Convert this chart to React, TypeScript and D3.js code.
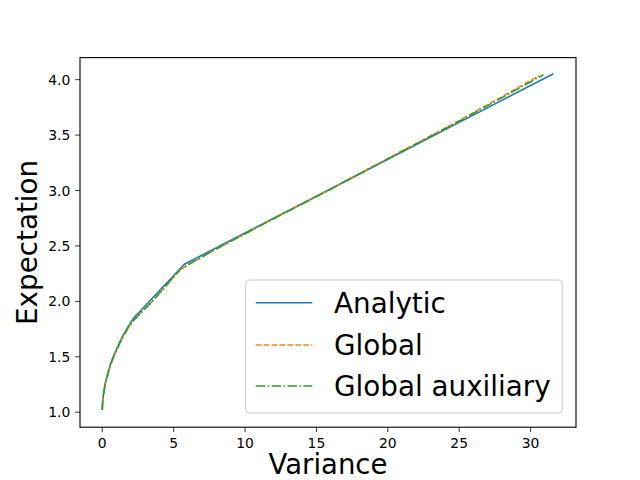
import React from "react";
import * as d3 from "d3";

const analyticX = [0, 0.02, 0.08, 0.2, 0.4, 0.7, 1.0, 1.4, 1.8, 2.2, 5.75, 10, 15, 20, 25, 31.6];
const analyticY = [1.02, 1.09, 1.16, 1.26, 1.36, 1.48, 1.57, 1.68, 1.77, 1.85, 2.335, 2.617, 2.949, 3.282, 3.615, 4.054];

const globalX = [0, 0.02, 0.08, 0.2, 0.4, 0.7, 1.0, 1.4, 1.8, 2.2, 3.5, 5.5, 8, 12, 16, 20, 25, 30.6];
const globalY = [1.02, 1.08, 1.15, 1.25, 1.35, 1.47, 1.56, 1.67, 1.76, 1.83, 2.0, 2.29, 2.475, 2.745, 3.015, 3.29, 3.63, 4.035];

const auxX = [0, 0.02, 0.08, 0.2, 0.4, 0.7, 1.0, 1.4, 1.8, 2.2, 3.5, 5.5, 8, 12, 16, 20, 25, 30.9];
const auxY = [1.02, 1.08, 1.15, 1.25, 1.35, 1.47, 1.56, 1.67, 1.76, 1.83, 2.0, 2.295, 2.475, 2.745, 3.012, 3.285, 3.625, 4.045];

const seriesNames = ["Analytic", "Global", "Global auxiliary"];
const xTicks = [0, 5, 10, 15, 20, 25, 30];
const yTicks = [1.0, 1.5, 2.0, 2.5, 3.0, 3.5, 4.0];

const W = 640, H = 480;
const L = 80, R = 576, T = 57.6, B = 427.2;
const FONT = "DejaVu Sans, sans-serif";

export default function App() {
  const x = d3.scaleLinear().domain([-1.56, 33.18]).range([L, R]);
  const y = d3.scaleLinear().domain([0.865, 4.199]).range([B, T]);
  const line = d3.line<[number, number]>().x(d => x(d[0])).y(d => y(d[1]));
  const series = [
    { name: seriesNames[0], xs: analyticX, ys: analyticY, color: "#1f77b4", dash: undefined as string | undefined },
    { name: seriesNames[1], xs: globalX, ys: globalY, color: "#ff7f0e", dash: "5.55,2.4" },
    { name: seriesNames[2], xs: auxX, ys: auxY, color: "#2ca02c", dash: "9.6,2.4,1.5,2.4" },
  ];
  const legendRows = [302.7, 345, 386];
  return (
    <svg width={W} height={H} style={{ position: "absolute", left: 0, top: 0, background: "#fff" }} fontFamily={FONT}>
      <rect x={0} y={0} width={W} height={H} fill="#fff" />
      <defs>
        <clipPath id="plotclip">
          <rect x={L} y={T} width={R - L} height={B - T} />
        </clipPath>
      </defs>
      <g clipPath="url(#plotclip)">
        {series.map(s => (
          <path key={s.name}
            d={line(s.xs.map((v, i) => [v, s.ys[i]] as [number, number])) || ""}
            fill="none" stroke={s.color} strokeWidth={1.6} strokeDasharray={s.dash}
            strokeLinejoin="round" />
        ))}
      </g>
      {xTicks.map(t => (
        <g key={"x" + t}>
          <line x1={x(t)} x2={x(t)} y1={B} y2={B + 4.86} stroke="#000" strokeWidth={0.8} />
          <text x={x(t)} y={B + 4.86 + 4.86 + 11} textAnchor="middle" fontSize={13.9} fill="#000">{t}</text>
        </g>
      ))}
      {yTicks.map(t => (
        <g key={"y" + t}>
          <line x1={L - 4.86} x2={L} y1={y(t)} y2={y(t)} stroke="#000" strokeWidth={0.8} />
          <text x={L - 4.86 - 4.86} y={y(t)} dy="0.36em" textAnchor="end" fontSize={13.9} fill="#000">{t.toFixed(1)}</text>
        </g>
      ))}
      <rect x={L} y={T} width={R - L} height={B - T} fill="none" stroke="#000" strokeWidth={1.1} />
      <text x={(L + R) / 2} y={474} textAnchor="middle" fontSize={27.5} fill="#000">Variance</text>
      <text transform={`translate(36.5,${(T + B) / 2}) rotate(-90)`} textAnchor="middle" fontSize={27.8} fill="#000">Expectation</text>
      <rect x={245.7} y={280} width={316.6} height={133} rx={4} ry={4} fill="#fff" fillOpacity={0.8} stroke="#cccccc" strokeWidth={1} />
      {series.map((s, i) => (
        <g key={"lg" + s.name}>
          <line x1={255.7} x2={312.3} y1={legendRows[i]} y2={legendRows[i]} stroke={s.color} strokeWidth={1.6} strokeDasharray={s.dash} />
          <text x={334} y={legendRows[i]} dy="0.36em" fontSize={27.8} fill="#000">{s.name}</text>
        </g>
      ))}
    </svg>
  );
}
